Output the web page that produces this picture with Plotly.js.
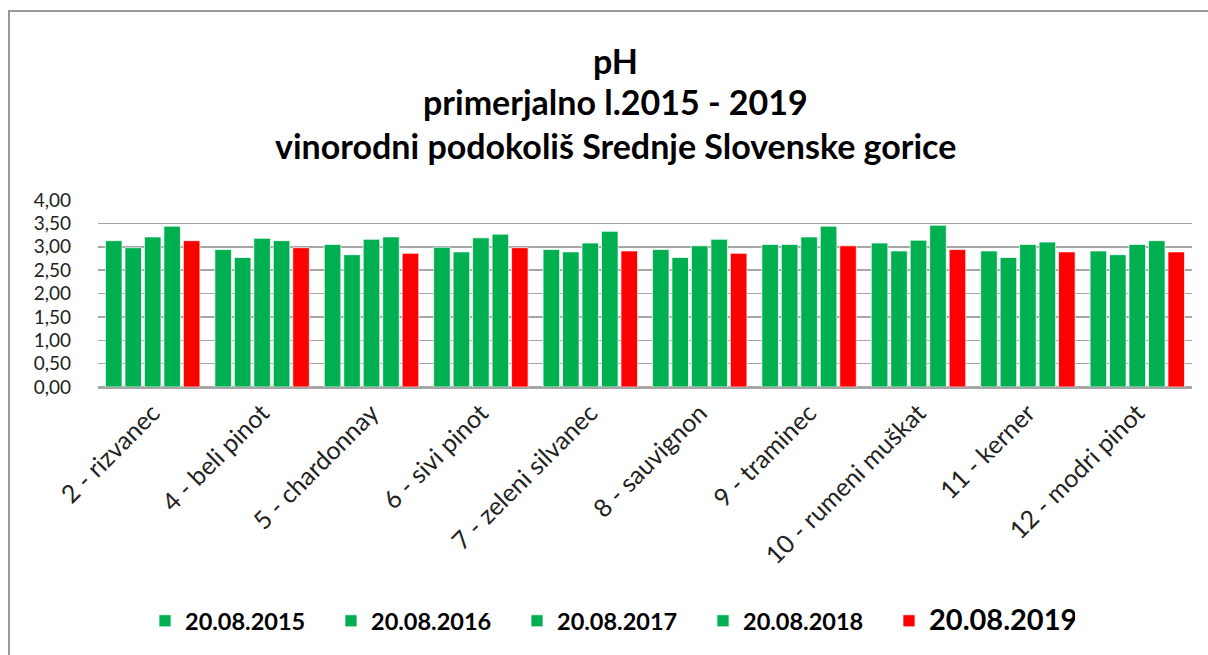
<!DOCTYPE html>
<html>
<head>
<meta charset="utf-8">
<script src="https://cdn.plot.ly/plotly-3.0.1.min.js"></script>
<style>
  html, body { margin:0; padding:0; background:#fff; overflow:hidden; }
  #chart { width:1208px; height:655px; }
  #frame { position:absolute; left:8px; top:10px; width:1400px; height:900px;
           border-left:2px solid #999; border-top:2px solid #999; pointer-events:none; }
</style>
</head>
<body>
<div id="chart"></div>
<div id="frame"></div>
<script>
const categories = ["2 - rizvanec", "4 - beli pinot", "5 - chardonnay", "6 - sivi pinot",
  "7 - zeleni silvanec", "8 - sauvignon", "9 - traminec", "10 - rumeni muškat",
  "11 - kerner", "12 - modri pinot"];
const seriesNames = ["20.08.2015", "20.08.2016", "20.08.2017", "20.08.2018", "20.08.2019"];
const v2015 = [3.13, 2.94, 3.05, 2.99, 2.94, 2.94, 3.05, 3.08, 2.91, 2.91];
const v2016 = [2.98, 2.77, 2.83, 2.89, 2.89, 2.77, 3.05, 2.91, 2.77, 2.83];
const v2017 = [3.21, 3.18, 3.16, 3.19, 3.08, 3.02, 3.21, 3.14, 3.05, 3.05];
const v2018 = [3.44, 3.13, 3.21, 3.27, 3.33, 3.16, 3.44, 3.46, 3.10, 3.13];
const v2019 = [3.13, 2.98, 2.86, 2.98, 2.91, 2.86, 3.02, 2.94, 2.89, 2.89];
const seriesValues = [v2015, v2016, v2017, v2018, v2019];
const seriesColors = ["#00B050", "#00B050", "#00B050", "#00B050", "#FF0000"];
const titleLines = ["pH", "primerjalno l.2015 - 2019", "vinorodni podokoliš Srednje Slovenske gorice"];

const traces = seriesValues.map((vals, i) => ({
  type: "bar",
  x: categories,
  y: vals,
  name: i === 4 ? '<span style="font-size:29px">' + seriesNames[i] + '</span>' : seriesNames[i],
  marker: { color: seriesColors[i], line: { color: "rgba(255,255,255,0.7)", width: 1 } },
  hoverinfo: "x+y+name"
}));

// plot area: top 200px, bottom 387px
const plotTop = 200, plotBottom = 387, plotH = plotBottom - plotTop;
const titleY = [61, 101, 145];
const annotations = titleLines.map((t, i) => ({
  text: "<b>" + t + "</b>",
  xref: "paper", yref: "paper",
  x: (615 - 98) / 1094,
  y: (plotBottom - titleY[i]) / plotH,
  xanchor: "center", yanchor: "middle",
  showarrow: false,
  font: { family: "Lato, sans-serif", size: 34, color: "#000" }
}));

const layout = {
  width: 1208, height: 655,
  margin: { l: 98, r: 16, t: plotTop, b: 655 - plotBottom },
  paper_bgcolor: "#fff", plot_bgcolor: "#fff",
  separators: ",.",
  barmode: "group",
  bargap: 0.11,
  bargroupgap: 0.15,
  showlegend: true,
  annotations: annotations,
  xaxis: {
    type: "category",
    tickangle: -45,
    tickfont: { family: "Lato, sans-serif", size: 25, color: "#222" },
    showgrid: false,
    showline: true, linecolor: "#a6a6a6", linewidth: 1.5,
    ticks: "", automargin: false
  },
  yaxis: {
    range: [0, 4],
    dtick: 0.5,
    tickformat: ".2f",
    tickfont: { family: "Lato, sans-serif", size: 19, color: "#222" },
    showgrid: true, gridcolor: "#a6a6a6", gridwidth: 1.5,
    zeroline: true, zerolinecolor: "#a6a6a6", zerolinewidth: 1.5,
    ticklabelstandoff: 26,
    automargin: false
  },
  legend: {
    orientation: "h",
    xref: "container", yref: "container",
    x: 610 / 1208, xanchor: "center",
    y: 1 - 621 / 655, yanchor: "middle",
    font: { family: "Lato, sans-serif", size: 23.5, color: "#000", weight: "bold" },
    entrywidth: 141,
    entrywidthmode: "pixels",
    traceorder: "normal"
  }
};

Plotly.newPlot("chart", traces, layout, { staticPlot: true, displayModeBar: false });
</script>
</body>
</html>
